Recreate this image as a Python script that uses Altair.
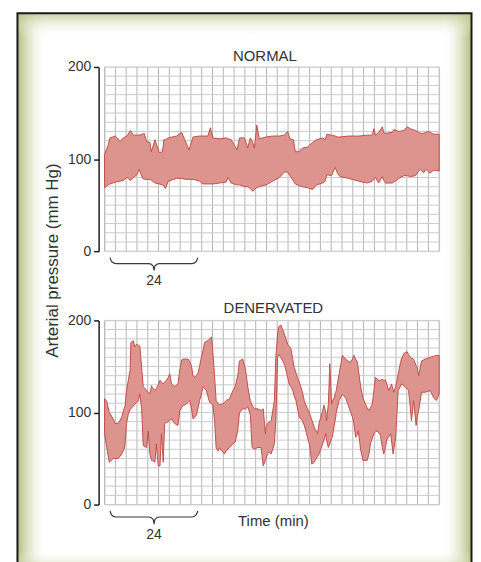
import altair as alt
import pandas as pd

# ---------------- data ----------------
# NORMAL trace: time (min), upper and lower envelope (mm Hg)
n_t = [0, 1, 1.5, 3, 4.3, 5.2, 6.2, 7.2, 8, 9,
       9.6, 10.6, 11, 11.7, 12.6, 13, 14, 15.2, 16.1, 16.5,
       16.9, 17.7, 20, 21.4, 22.3, 23.5, 24.6, 26.4, 27.4, 28.7,
       29.4, 30.1, 32, 33.8, 34.3, 35.2, 36.8, 37.5, 38.9, 39.8,
       40.5, 41.2, 41.65, 42.3, 43, 44.9, 46.7, 48.6, 50, 50.9,
       51.5, 52.5, 53, 54.1, 55, 56.4, 57.8, 58.9, 60.6, 61.3,
       61.8, 63.1, 64.1, 64.7, 65.4, 67.9, 70.7, 73, 74.4, 74.9,
       75.3, 76.2, 77.2, 77.7, 78.1, 80, 80.4, 81.8, 83.2, 84.1,
       85, 86.4, 86.9, 87.8, 88.7, 89.3, 90.1, 90.5, 91.5, 93]
n_hi = [105, 115, 123, 125, 119, 123, 125, 131, 126, 126,
        126, 127, 128, 119, 118, 108, 121, 107, 108, 121,
        121, 123, 125, 129, 121, 110, 124, 125, 125, 125,
        134, 123, 122, 123, 122, 121, 110, 123, 123, 112,
        123, 118, 112, 137, 122, 124, 125, 125, 126, 130,
        122, 121, 108, 108, 112, 113, 118, 121, 123, 121,
        127, 126, 125, 124, 124, 125, 125, 126, 126, 133,
        126, 129, 135, 128, 128, 129, 132, 130, 131, 135,
        133, 131, 130, 128, 128, 129, 130, 129, 127, 127]
n_lo = [69, 72, 73, 75, 76, 77, 80, 77, 80, 83,
        89, 79, 78, 78, 78, 77, 74, 73, 72, 71,
        68, 76, 79, 79, 78, 78, 78, 76, 73, 73,
        73, 73, 74, 75, 80, 74, 72, 72, 70, 70,
        68, 65, 67, 69, 70, 72, 76, 80, 86, 86,
        82, 76, 73, 71, 70, 69, 67, 72, 74, 76,
        83, 82, 91, 85, 81, 79, 76, 74, 76, 78,
        80, 74, 81, 76, 74, 74, 75, 79, 82, 82,
        81, 82, 85, 89, 85, 89, 86, 85, 88, 87]

# DENERVATED trace
d_t = [0, 0.6, 1.3, 2.4, 2.9, 3.8, 4.75, 5.4, 5.7, 6.1,
       6.6, 7.1, 7.3, 8.0, 8.4, 8.9, 9.4, 9.8, 10.3, 10.75,
       11.7, 12.1, 12.6, 13.05, 13.3, 14.0, 14.4, 14.9, 15.4, 15.8,
       16.3, 16.7, 17.2, 17.7, 18.1, 18.6, 19.5, 20.4, 20.9, 21.4,
       21.8, 22.3, 22.7, 23.2, 23.7, 24.1, 24.6, 25.0, 25.5, 26.0,
       26.4, 26.9, 27.4, 27.8, 28.3, 28.7, 29.2, 29.7, 30.1, 30.6,
       31.0, 31.5, 32.0, 32.4, 32.9, 33.3, 33.8, 34.7, 35.7, 36.3,
       37.0, 37.5, 38.4, 39.2, 39.8, 40.5, 41.0, 41.65, 42.6, 43.5,
       44.1, 44.7, 44.9, 45.3, 45.6, 46.3, 47.2, 47.6, 48.1, 48.4,
       49.0, 49.5, 50.0, 50.4, 50.9, 51.3, 51.8, 52.3, 52.7, 53.2,
       53.6, 54.1, 54.6, 55.0, 55.5, 55.95, 56.4, 56.9, 57.3, 57.6,
       58.3, 58.5, 59.2, 59.6, 60.1, 60.6, 61.0, 61.5, 61.7, 62.2,
       62.6, 63.1, 63.3, 63.8, 64.25, 64.4, 65.2, 66.1, 67.0, 67.9,
       68.4, 68.9, 69.3, 69.8, 70.25, 70.5, 70.9, 71.2, 71.6, 71.8,
       72.6, 73.0, 73.5, 73.9, 74.4, 74.9, 75.3, 75.8, 76.2, 76.7,
       77.2, 77.6, 78.1, 78.5, 79.0, 79.5, 79.75, 80.2, 80.4, 80.9,
       81.3, 81.6, 82.2, 82.5, 83.2, 83.6, 84.1, 84.5, 85.0, 85.3,
       85.9, 86.6, 86.9, 87.3, 88.1, 89.2, 90.5, 91.5, 92.2, 93.0]
d_hi = [115, 112, 100, 93, 88, 88, 95, 104, 107, 124,
        135, 146, 176, 178, 171, 174, 173, 172, 149, 128,
        124, 122, 120, 129, 127, 124, 126, 130, 135, 133,
        131, 133, 135, 138, 142, 131, 128, 131, 146, 157,
        158, 158, 158, 158, 155, 151, 140, 138, 140, 143,
        150, 160, 168, 176, 177, 178, 180, 182, 166, 138,
        113, 110, 108, 109, 109, 111, 113, 115, 124, 128,
        140, 156, 158, 146, 128, 113, 108, 104, 104, 102,
        104, 77, 85, 88, 89, 91, 113, 160, 185, 193,
        195, 190, 185, 180, 174, 172, 169, 158, 149, 143,
        138, 133, 127, 122, 113, 108, 104, 100, 95, 92,
        84, 82, 77, 88, 95, 102, 108, 100, 91, 109,
        153, 109, 112, 116, 122, 124, 142, 162, 158, 155,
        155, 158, 162, 158, 155, 148, 136, 128, 120, 116,
        108, 105, 102, 105, 109, 125, 138, 136, 135, 135,
        136, 135, 135, 130, 124, 128, 131, 125, 122, 128,
        135, 142, 153, 158, 164, 165, 166, 163, 160, 159,
        158, 151, 149, 140, 156, 158, 160, 161, 162, 162]
d_lo = [77, 62, 46, 50, 50, 50, 55, 60, 66, 88,
        98, 103, 104, 107, 109, 111, 113, 120, 104, 64,
        62, 80, 55, 48, 48, 46, 66, 42, 42, 77,
        46, 88, 89, 90, 92, 93, 88, 86, 102, 105,
        108, 108, 109, 111, 113, 105, 93, 95, 97, 105,
        113, 120, 128, 126, 124, 118, 111, 110, 108, 90,
        62, 58, 62, 59, 57, 55, 58, 62, 66, 68,
        80, 100, 104, 104, 106, 98, 62, 60, 62, 62,
        42, 48, 50, 55, 57, 55, 66, 91, 160, 163,
        160, 156, 152, 146, 138, 131, 128, 124, 118, 113,
        105, 95, 93, 91, 86, 80, 73, 66, 55, 44,
        46, 48, 52, 55, 60, 66, 70, 77, 70, 62,
        66, 72, 73, 85, 95, 100, 113, 120, 116, 106,
        100, 95, 88, 73, 76, 80, 68, 59, 52, 48,
        48, 48, 55, 66, 72, 77, 79, 80, 78, 75,
        62, 55, 63, 71, 74, 77, 70, 55, 60, 73,
        100, 124, 128, 131, 129, 127, 126, 124, 105, 91,
        113, 86, 95, 102, 122, 122, 124, 116, 113, 120]

grid_x = list(range(0, 94, 3))      # chart-paper verticals, every 3 min
grid_y = list(range(0, 201, 10))    # chart-paper horizontals, every 10 mm Hg
y_ticks = [0, 100, 200]

# "24 min" brace below each trace (minutes, mm Hg)
brace_t = [1.5, 2.0, 3.2, 12.3, 13.5, 13.75, 14.0, 15.2, 24.3, 25.4, 25.9]
brace_p = [-7, -11.5, -13.5, -13.5, -16, -21, -16, -13.5, -13.5, -11.5, -7]
brace_label = ["24"]
brace_label_t = [13.75]
brace_label_p = [-32.5]

# ---------------- styling ----------------
FONT = "Liberation Sans"
TXT = "#333333"
W, H = 336, 185
OX, OY = 104.5, 65          # page position of the top plot's origin
FILL = "#dd938e"
LINE = "#c0504d"

xscale = alt.Scale(domain=[0, 93], nice=False, zero=False)
yscale = alt.Scale(domain=[0, 200], nice=False, zero=False)


def y_axis(title):
    kw = dict(values=y_ticks, grid=False, offset=6, domainColor="#1e1e1e",
              domainWidth=1.5, tickColor="#1e1e1e", tickWidth=1.5, tickSize=5,
              labelFontSize=14, labelColor=TXT, labelPadding=3, labelFont=FONT)
    if title:
        kw.update(title=title, titleX=-46.5, titleY=194, titleAngle=270,
                  titleBaseline="middle", titleAlign="center",
                  titleFontSize=17, titleFontWeight="normal", titleColor=TXT,
                  titleFont=FONT)
    else:
        kw.update(title=None)
    return alt.Axis(**kw)


one = alt.Data(values=[{"k": 1}])
EDGE = "rgba(170,180,108,0.9)"
EDGE_T = "rgba(185,194,130,0.75)"
CLEAR = "rgba(255,255,255,0)"


def grad(x2, y2, c0, c1):
    return alt.LinearGradient(
        gradient="linear", x1=0, y1=0, x2=x2, y2=y2,
        stops=[alt.GradientStop(offset=0, color=c0),
               alt.GradientStop(offset=1, color=c1)])


def deco(x, x2, y, y2, **mark):
    return alt.Chart(one).mark_rect(**mark).encode(
        x=alt.value(x - OX), x2=alt.value(x2 - OX),
        y=alt.value(y - OY), y2=alt.value(y2 - OY))


L, T, R, B = 17, 11, 473, 575
decorations = [
    deco(L, L + 30, T, B, fill=grad(1, 0, EDGE, CLEAR), strokeWidth=0),
    deco(R - 30, R, T, B, fill=grad(1, 0, CLEAR, EDGE), strokeWidth=0),
    deco(L, R, T, T + 24, fill=grad(0, 1, EDGE_T, CLEAR), strokeWidth=0),
    deco(L, R, B - 24, B, fill=grad(0, 1, CLEAR, EDGE), strokeWidth=0),
    deco(L, R, T, B, fill="white", fillOpacity=0, stroke="#1a1a1a", strokeWidth=2),
]


def panel(t, hi, lo, title, dx, offset, yax, xax, extra):
    X = lambda f: alt.X(f, scale=xscale, axis=xax)
    Y = lambda f: alt.Y(f, scale=yscale, axis=yax)
    vgrid = alt.Chart(pd.DataFrame({"gx": grid_x})).mark_rule(
        color="#b4b4b4", strokeWidth=1).encode(x=X("gx:Q"))
    hgrid = alt.Chart(pd.DataFrame({"gy": grid_y})).mark_rule(
        color="#cbcbcb", strokeWidth=1).encode(y=Y("gy:Q"))
    band = alt.Chart(pd.DataFrame({"t": t, "hi": hi, "lo": lo})).mark_area(
        fill=FILL, stroke=LINE, strokeWidth=1, interpolate="linear").encode(
        x=X("t:Q"), y=Y("hi:Q"), y2="lo:Q")
    brace = alt.Chart(pd.DataFrame({"t": brace_t, "p": brace_p})).mark_line(
        color="#3a3a3a", strokeWidth=1.2, interpolate="monotone").encode(
        x=X("t:Q"), y=Y("p:Q"))
    lab = alt.Chart(pd.DataFrame({"t": brace_label_t, "p": brace_label_p,
                                  "s": brace_label})).mark_text(
        fontSize=14, color=TXT, font=FONT, baseline="middle").encode(
        x=X("t:Q"), y=Y("p:Q"), text="s:N")
    head = alt.Chart(one).mark_text(
        text=title, fontSize=15, color=TXT, font=FONT, align="center",
        baseline="alphabetic").encode(x=alt.value(W / 2 + dx), y=alt.value(-offset))
    layers = extra + [vgrid, hgrid, band, brace, lab, head]
    return alt.layer(*layers).properties(width=W, height=H)


x_bottom = alt.Axis(title="Time (min)", domain=False, ticks=False, labels=False,
                    grid=False, titleX=169, titleY=16, titleBaseline="middle",
                    titleFontSize=15, titleFontWeight="normal", titleColor=TXT,
                    titleFont=FONT)

top = panel(n_t, n_hi, n_lo, "NORMAL", -7, 6,
            y_axis("Arterial pressure (mm Hg)"), None, decorations)
bottom = panel(d_t, d_hi, d_lo, "DENERVATED", 1.5, 7, y_axis(None), x_bottom, [])

chart = alt.vconcat(top, bottom, spacing=69.5, bounds="flush").properties(
    padding={"left": 8, "top": 2, "right": 0, "bottom": 0}
).configure_view(stroke=None).configure(font=FONT, background="white")

chart.save("out.html", embed_options={"renderer": "svg", "actions": False})
